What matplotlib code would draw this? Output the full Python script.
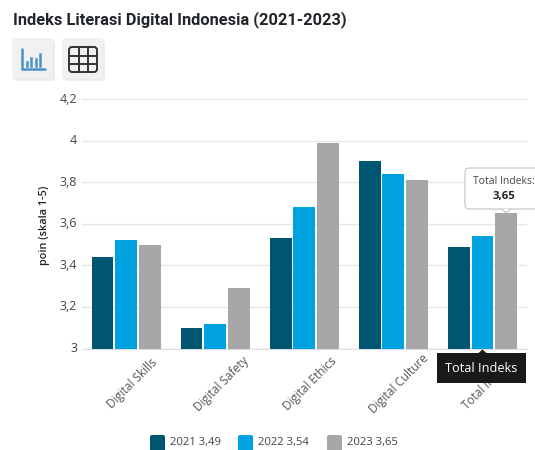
import numpy as np
from matplotlib import pyplot as plt
from matplotlib.patches import FancyBboxPatch, Polygon, Rectangle
from matplotlib.transforms import ScaledTranslation

categories = ['Digital Skills', 'Digital Safety', 'Digital Ethics', 'Digital Culture', 'Total Indeks']
values_2021 = [3.44, 3.10, 3.53, 3.90, 3.49]
values_2022 = [3.52, 3.12, 3.68, 3.84, 3.54]
values_2023 = [3.50, 3.29, 3.99, 3.81, 3.65]
series_names = ['2021 3,49', '2022 3,54', '2023 3,65']
y_ticks = [3, 3.2, 3.4, 3.6, 3.8, 4, 4.2]
y_labels = ['3', '3,2', '3,4', '3,6', '3,8', '4', '4,2']
colors = ['#005571', '#00a3e0', '#a7a7a9']

W, H = 535, 450
plt.rcParams['font.family'] = ['Open Sans', 'DejaVu Sans']

fig = plt.figure(figsize=(W / 100, H / 100), dpi=100)
ax = fig.add_axes([81.5 / W, 1 - 348.5 / H, 445.5 / W, 249.5 / H])

# grouped bars
x = np.arange(len(categories))
for i, vals in enumerate([values_2021, values_2022, values_2023]):
    ax.bar(x + (i - 1) * 0.265, vals, width=0.245, color=colors[i], zorder=3)

ax.set_xlim(-0.5, 4.5)
ax.set_ylim(3, 4.2)
ax.set_yticks(y_ticks)
ax.set_yticklabels(y_labels, fontsize=9, color='#444444', va='center')
ax.set_xticks(x)
ax.set_xticklabels(categories, rotation=45, ha='center', va='center',
                   fontsize=8.5, color='#555555')
ax.tick_params(axis='both', length=0)
ax.tick_params(axis='x', pad=25.5)
ax.tick_params(axis='y', pad=3)
# category labels sit slightly right of the group centre
label_shift = ScaledTranslation(6 / 72 * 0.72, 0, fig.dpi_scale_trans)
for lab in ax.get_xticklabels():
    lab.set_transform(lab.get_transform() + label_shift)
ax.grid(axis='y', color='#e6e6e6', linewidth=1, zorder=0)
for s in ['top', 'right', 'left']:
    ax.spines[s].set_visible(False)
ax.spines['bottom'].set_color('#dddddd')
fig.text(45 / W, 1 - 225 / H, 'poin (skala 1-5)', rotation=90, ha='center', va='center',
         fontsize=7.8, fontweight='semibold', color='#222222')

fig.text(13 / W, 1 - 20 / H, 'Indeks Literasi Digital Indonesia (2021-2023)', ha='left', va='center',
         fontsize=11.8, fontweight='bold', family=['Roboto', 'DejaVu Sans'], color='#212529')

# overlay in pixel coordinates for buttons, legend and tooltips
ov = fig.add_axes([0, 0, 1, 1], zorder=5)
ov.set_xlim(0, W)
ov.set_ylim(H, 0)
ov.axis('off')
ov.patch.set_alpha(0)


def button(left):
    ov.add_patch(FancyBboxPatch((left + 2, 41), 40, 40, boxstyle='round,pad=0,rounding_size=2',
                                fc='#e6e6e6', ec='none', alpha=0.7))
    ov.add_patch(FancyBboxPatch((left, 39), 40, 40, boxstyle='round,pad=0,rounding_size=2',
                                fc='#f1f1f1', ec='#e9e9e9', lw=0.6))


button(13)
button(63)

# chart icon
icon = '#4b92c6'
ov.plot([22, 22, 44.5], [49, 69, 69], color=icon, lw=1.8, solid_capstyle='round')
for bx, top in zip([27, 31, 36, 40], [62, 58, 59, 54]):
    ov.plot([bx, bx], [top, 66], color=icon, lw=1.8)

# table icon
dark = '#333333'
ov.add_patch(FancyBboxPatch((69, 47), 28, 25, boxstyle='round,pad=0,rounding_size=3',
                            fc='none', ec=dark, lw=1.4))
for gx in [78.5, 88]:
    ov.plot([gx, gx], [47, 72], color=dark, lw=1.4)
for gy in [55.5, 63.5]:
    ov.plot([69, 97], [gy, gy], color=dark, lw=1.4)

# legend
for left, name, c in zip([150, 238, 327], series_names, colors):
    ov.add_patch(FancyBboxPatch((left, 435), 15, 18, boxstyle='round,pad=0,rounding_size=2',
                                fc=c, ec='none', clip_on=True))
    ov.text(left + 20, 443, name, ha='left', va='center', fontsize=8.1, color='#444444')


def to_px(xv, yv):
    px, py = ax.transData.transform((xv, yv))
    return px, H - py


# value tooltip above the 2023 total bar
tx, ty = to_px(x[4] + 0.265, values_2023[4])
ov.add_patch(FancyBboxPatch((465, 168), 90, 41, boxstyle='round,pad=0,rounding_size=4',
                            fc='white', ec='#c9c9c9', lw=0.9, zorder=6))
ov.add_patch(Polygon([(tx - 4, ty - 4.5), (tx, ty - 0.5), (tx + 4, ty - 4.5)], fc='white', ec='none', zorder=7))
ov.plot([tx - 4, tx, tx + 4], [ty - 4, ty - 0.5, ty - 4], color='#c9c9c9', lw=0.9, zorder=7)
ov.text(504, 182, categories[4] + ':', ha='center', va='center', fontsize=7.5, color='#444444', zorder=8)
ov.text(504, 196, f'{values_2023[4]:.2f}'.replace('.', ','), ha='center', va='center',
        fontsize=8.2, fontweight='bold', color='#222222', zorder=8)

# dark tooltip over the category label
cx, cy = to_px(x[4], 3)
ov.add_patch(Rectangle((437, 353), 89, 30, fc='#191919', ec='none', zorder=6))
ov.add_patch(Polygon([(cx - 4, 353), (cx, 349.5), (cx + 4, 353)], fc='#191919', ec='none', zorder=6))
ov.text(481.5, 369, categories[4], ha='center', va='center', fontsize=9.2, color='white', zorder=7)

fig.savefig('out.png', dpi=100)
